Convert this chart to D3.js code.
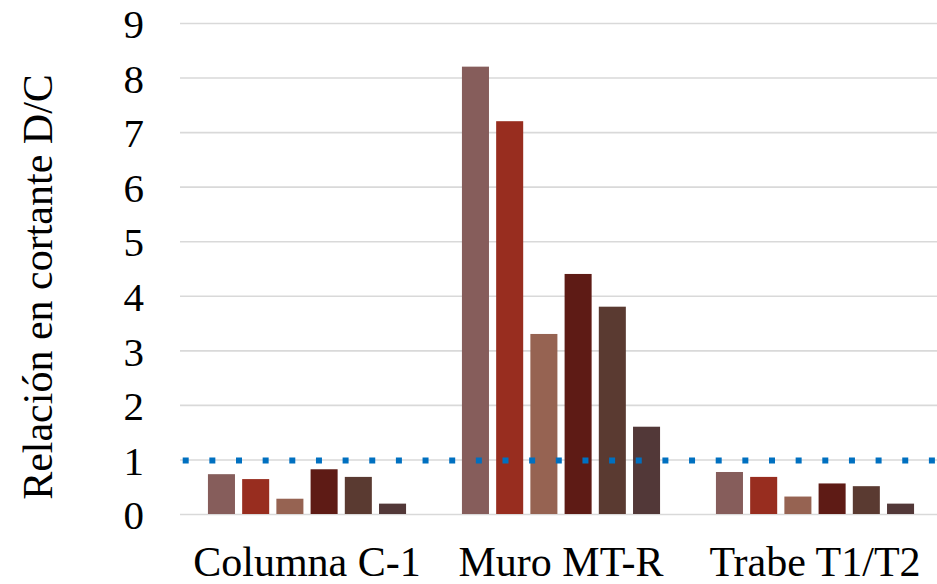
<!DOCTYPE html>
<html>
<head>
<meta charset="utf-8">
<script src="https://cdn.jsdelivr.net/npm/d3@7"></script>
<style>
  html, body { margin: 0; padding: 0; background: #fff; }
  svg { display: block; }
</style>
</head>
<body>
<svg id="chart" width="937" height="584"></svg>
<script>
// Shear demand/capacity ratios per element, six cases each
const categories = ["Columna C-1", "Muro MT-R", "Trabe T1/T2"];
const seriesNames = ["S1", "S2", "S3", "S4", "S5", "S6"];
const seriesValues = [
  [0.73, 8.2, 0.77],
  [0.64, 7.2, 0.68],
  [0.28, 3.3, 0.32],
  [0.82, 4.4, 0.56],
  [0.68, 3.8, 0.51],
  [0.19, 1.6, 0.19]
];
const seriesColors = ["#865d5b", "#982d1f", "#966352", "#5e1b15", "#5a3a31", "#523838"];
const yTicks = [0, 1, 2, 3, 4, 5, 6, 7, 8, 9];
const limitValue = 1;
const yTitle = "Relación en cortante D/C";

const svg = d3.select("#chart");
const plotLeft = 180, plotRight = 942, plotTop = 23, plotBottom = 514;

const x0 = d3.scaleBand().domain(categories).range([plotLeft, plotRight])
  .paddingInner(0.22).paddingOuter(0.11);
const x1 = d3.scaleBand().domain(seriesNames).range([0, x0.bandwidth()])
  .paddingInner(0.21).paddingOuter(0);
const y = d3.scaleLinear().domain([0, 9]).range([plotBottom, plotTop]);

const font = "Liberation Serif";

// horizontal gridlines
const grid = svg.append("g").attr("transform", `translate(${plotLeft},0)`)
  .call(d3.axisLeft(y).tickValues(yTicks).tickSize(-(plotRight - plotLeft)).tickFormat(""));
grid.select(".domain").remove();
grid.selectAll("line").attr("stroke", "#d9d9d9").attr("stroke-width", 1.6);

// y tick labels
const yAxis = svg.append("g").attr("transform", `translate(${plotLeft},0)`)
  .call(d3.axisLeft(y).tickValues(yTicks).tickSize(0).tickPadding(36).tickFormat(d3.format("d")));
yAxis.select(".domain").remove();
yAxis.selectAll("text")
  .attr("dy", "0.36em")
  .style("font-family", font).style("font-size", "41px").attr("fill", "#000");

// bars
const groups = svg.append("g").selectAll("g")
  .data(categories)
  .join("g")
  .attr("transform", d => `translate(${x0(d)},0)`);

groups.selectAll("rect")
  .data((c, ci) => seriesNames.map((s, si) => ({ s, si, v: seriesValues[si][ci] })))
  .join("rect")
  .attr("x", d => x1(d.s))
  .attr("width", x1.bandwidth())
  .attr("y", d => y(d.v))
  .attr("height", d => y(0) - y(d.v))
  .attr("fill", d => seriesColors[d.si]);

// limit line at D/C = 1
svg.append("line")
  .attr("x1", plotLeft + 2.7).attr("x2", plotRight)
  .attr("y1", y(limitValue) + 1).attr("y2", y(limitValue) + 1)
  .attr("stroke", "#0070c0")
  .attr("stroke-width", 6)
  .attr("stroke-dasharray", "6 20.65");

// category labels
const xAxis = svg.append("g").attr("transform", `translate(0,${plotBottom})`)
  .call(d3.axisBottom(x0).tickSize(0));
xAxis.select(".domain").remove();
xAxis.selectAll("text")
  .attr("dy", null).attr("y", 62)
  .style("font-family", font).style("font-size", "42px").attr("fill", "#000");

// y axis title
svg.append("text")
  .attr("transform", "translate(52,287) rotate(-90)")
  .attr("text-anchor", "middle")
  .style("font-family", font).style("font-size", "42px").attr("fill", "#000")
  .text(yTitle);
</script>
</body>
</html>
